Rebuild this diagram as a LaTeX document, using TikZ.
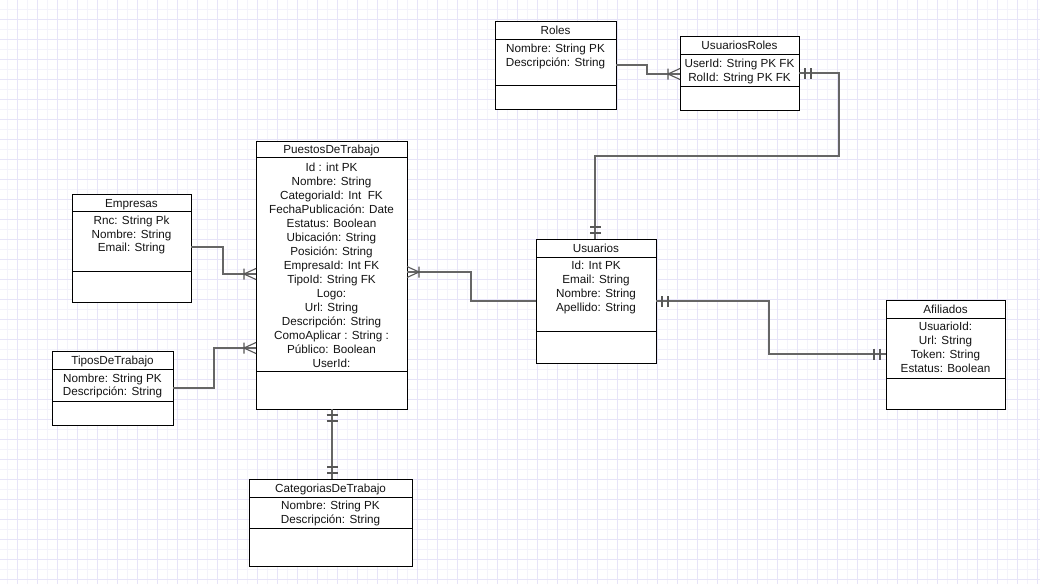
\documentclass[tikz,border=0pt]{standalone}
\usepackage{fontspec}
\setmainfont{Liberation Sans}
\usetikzlibrary{calc}

\definecolor{gridminor}{HTML}{F4F3FB}
\definecolor{gridmajor}{HTML}{E7E4F8}
\definecolor{wire}{HTML}{666666}
\definecolor{ink}{HTML}{141414}

\tikzset{
  erframe/.style={draw=black, fill=white, line width=1pt, inner sep=0pt, outer sep=0pt, anchor=north west},
  ertext/.style={text=ink, font=\fontsize{11.7}{14}\selectfont, inner sep=0pt, anchor=base},
  wireline/.style={draw=wire, line width=1.6pt},
  tipline/.style={draw=wire!85!black, line width=1.1pt},
  crowfoot/.pic={\draw[tipline] (-12,-5.5) -- (-12,5.5) (-12,0) -- (0,-5.5) (-12,0) -- (0,5.5);},
  twobars/.pic={\draw[tipline] (-6,-5.5) -- (-6,5.5) (-12,-5.5) -- (-12,5.5);},
}

% entity box: name, x1, y1, x2, y2, header rule y, separator y, title
\newcommand{\erbox}[8]{%
  \node[erframe, minimum width=#4pt-#2pt, minimum height=#5pt-#3pt] (#1) at (#2,#3) {};
  \draw[line width=1pt] (#2,#6) -- (#4,#6) (#2,#7) -- (#4,#7);
  \node[ertext] (#1-title) at ({(#2+#4)/2},{(#3+#6)/2+4.5}) {#8};
}
% attribute lines: name, centre x, first line y, line step, list
\newcommand{\erattrs}[5]{%
  \foreach \txt [count=\i] in {#5}
    \node[ertext] (#1-a\i) at (#2,{#3+(\i-1)*#4+4.5}) {\txt};
}

\begin{document}
\begin{tikzpicture}[x=1pt,y=-1pt]
\useasboundingbox (0,0) rectangle (1040,584);
\fill[white] (0,0) rectangle (1040,584);

% background grid
\foreach \x in {7.5,27.5,...,1040} \draw[gridminor, line width=1pt] (\x,0) -- (\x,584);
\foreach \y in {9.5,29.5,...,584} \draw[gridminor, line width=1pt] (0,\y) -- (1040,\y);
\foreach \x in {17.5,37.5,...,1040} \draw[gridmajor, line width=1pt] (\x,0) -- (\x,584);
\foreach \y in {19.5,39.5,...,584} \draw[gridmajor, line width=1pt] (0,\y) -- (1040,\y);

% entities
\erbox{roles}{495}{21}{616}{109}{39}{85}{Roles}
\erattrs{roles}{555.5}{48.3}{13.5}{Nombre: String PK, Descripción: String}

\erbox{usrroles}{680}{36}{799}{110}{54}{86}{UsuariosRoles}
\erattrs{usrroles}{739.5}{62.5}{14}{UserId: String PK FK, RolId: String PK FK}

\erbox{puestos}{256}{141}{407}{409}{157}{371}{PuestosDeTrabajo}
\erattrs{puestos}{331.5}{166.5}{14}{Id : int PK, Nombre: String, CategoriaId: Int\ \ FK, FechaPublicación: Date, Estatus: Boolean, Ubicación: String, Posición: String, EmpresaId: Int FK, TipoId: String FK, Logo:, Url: String, Descripción: String, ComoAplicar : String :, Público: Boolean, UserId:}

\erbox{empresas}{72}{194}{191}{302}{211}{271}{Empresas}
\erattrs{empresas}{131.5}{220}{13.7}{Rnc: String Pk, Nombre: String, Email: String}

\erbox{tipos}{52}{351}{173}{425}{369}{401}{TiposDeTrabajo}
\erattrs{tipos}{112.5}{377.7}{13.4}{Nombre: String PK, Descripción: String}

\erbox{categorias}{249}{479}{412}{566}{497}{528}{CategoriasDeTrabajo}
\erattrs{categorias}{330.5}{505.3}{13.4}{Nombre: String PK, Descripción: String}

\erbox{usuarios}{536}{239}{656}{363}{257}{331}{Usuarios}
\erattrs{usuarios}{596}{265}{14}{Id: Int PK, Email: String, Nombre: String, Apellido: String}

\erbox{afiliados}{886}{300}{1005}{409}{318}{378}{Afiliados}
\erattrs{afiliados}{945.5}{326}{14}{UsuarioId:, Url: String, Token: String, Estatus: Boolean}

% connection points on the entity borders
\coordinate (rolesE)    at ($(roles.north east)+(0,44)$);
\coordinate (urW)       at ($(usrroles.north west)+(0,38)$);
\coordinate (urE)       at ($(usrroles.north east)+(0,37)$);
\coordinate (usrN)      at ($(usuarios.north west)+(59,0)$);
\coordinate (usrW)      at ($(usuarios.north west)+(0,62)$);
\coordinate (usrE)      at ($(usuarios.north east)+(0,62)$);
\coordinate (afW)       at ($(afiliados.north west)+(0,54)$);
\coordinate (puE)       at ($(puestos.north east)+(0,131)$);
\coordinate (puWa)      at ($(puestos.north west)+(0,133)$);
\coordinate (puWb)      at ($(puestos.north west)+(0,207)$);
\coordinate (puS)       at ($(puestos.south west)+(76,0)$);
\coordinate (empE)      at ($(empresas.north east)+(0,53)$);
\coordinate (tipE)      at ($(tipos.north east)+(0,37)$);
\coordinate (catN)      at ($(categorias.north west)+(83,0)$);

% relationships
\draw[wireline] (rolesE) -- ++(31,0) |- (urW);
\draw[wireline] (urE) -- ++(40,0) -- ++(0,83) -| (usrN);
\draw[wireline] (usrW) -- ++(-65,0) |- (puE);
\draw[wireline] (usrE) -- ++(113,0) |- (afW);
\draw[wireline] (empE) -- ++(32,0) |- (puWa);
\draw[wireline] (tipE) -- ++(41,0) |- (puWb);
\draw[wireline] (puS) -- (catN);

% cardinality marks
\pic at (urW) {crowfoot};
\pic[rotate=180] at (puE) {crowfoot};
\pic at (puWa) {crowfoot};
\pic at (puWb) {crowfoot};
\pic[rotate=180] at (urE) {twobars};
\pic[rotate=-90] at (usrN) {twobars};
\pic[rotate=180] at (usrE) {twobars};
\pic at (afW) {twobars};
\pic[rotate=90] at (puS) {twobars};
\pic[rotate=-90] at (catN) {twobars};
\end{tikzpicture}
\end{document}
